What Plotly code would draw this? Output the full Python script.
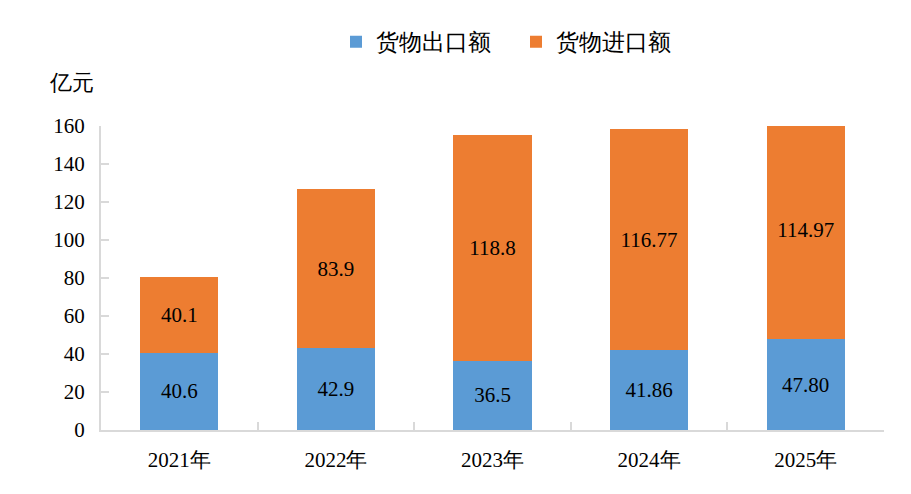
import plotly.graph_objects as go

# data
years = ["2021年", "2022年", "2023年", "2024年", "2025年"]
export_vals = [40.6, 42.9, 36.5, 41.86, 47.80]
import_vals = [40.1, 83.9, 118.8, 116.77, 114.97]
export_labels = ["40.6", "42.9", "36.5", "41.86", "47.80"]
import_labels = ["40.1", "83.9", "118.8", "116.77", "114.97"]

serif = "Liberation Serif"
fsize = 21

fig = go.Figure()
fig.add_trace(go.Bar(x=years, y=export_vals, name="货物出口额",
                     marker=dict(color="#5B9BD5", line=dict(width=0)),
                     text=export_labels, textposition="inside",
                     insidetextanchor="middle", textangle=0,
                     textfont=dict(size=fsize, color="black", family=serif)))
fig.add_trace(go.Bar(x=years, y=import_vals, name="货物进口额",
                     marker=dict(color="#ED7D31", line=dict(width=0)),
                     text=import_labels, textposition="inside",
                     insidetextanchor="middle", textangle=0,
                     textfont=dict(size=fsize, color="black", family=serif)))

# page body has an 8px margin, so the figure is 8px smaller each way
fig.update_layout(
    barmode="stack", bargap=0.5,
    width=903, height=486,
    margin=dict(l=93, r=27, t=118, b=64, autoexpand=False),
    plot_bgcolor="white", paper_bgcolor="white",
    font=dict(family=serif, size=fsize, color="black"),
    legend=dict(orientation="h", xref="container", yref="container",
                x=328 / 903, xanchor="left", y=1 - 34 / 486, yanchor="middle",
                font=dict(size=22.5, family=serif),
                entrywidth=135, traceorder="normal"),
    annotations=[dict(text="亿元", x=(63 - 93) / 783, y=(422 - 74) / 304,
                      xref="paper", yref="paper",
                      xanchor="center", yanchor="middle", showarrow=False,
                      font=dict(size=22, family=serif))],
)
fig.update_xaxes(showline=True, linecolor="#D9D9D9", linewidth=2,
                 ticks="inside", ticklen=8, tickcolor="#D9D9D9", tickwidth=2,
                 tickson="boundaries", automargin=False,
                 tickfont=dict(size=fsize, family=serif, color="black"),
                 ticklabelstandoff=10)
fig.update_yaxes(range=[0, 160], dtick=20, showgrid=False, zeroline=False,
                 showline=True, linecolor="#D9D9D9", linewidth=2,
                 ticks="inside", ticklen=8, tickcolor="#D9D9D9", tickwidth=2,
                 automargin=False,
                 tickfont=dict(size=fsize, family=serif, color="black"),
                 ticklabelstandoff=10)

fig.write_html("out.html")
